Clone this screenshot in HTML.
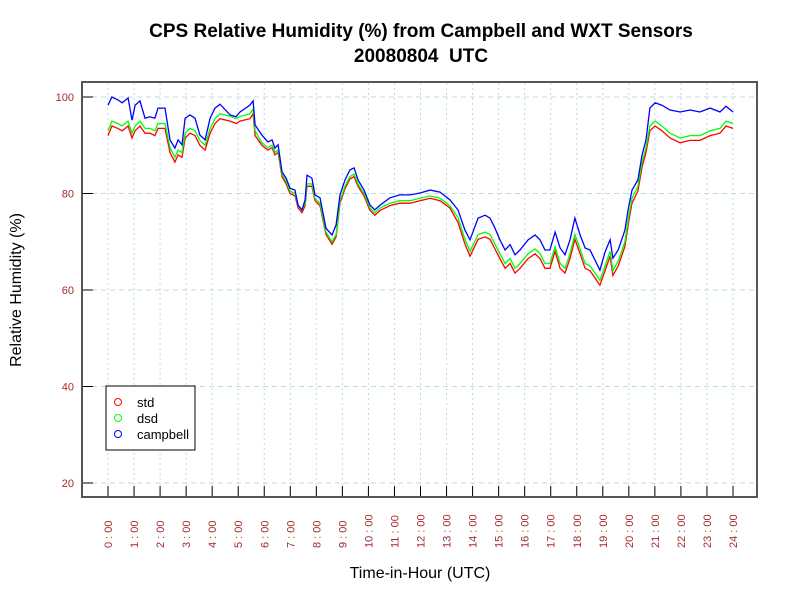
<!DOCTYPE html>
<html><head><meta charset="utf-8"><style>
body{margin:0;background:#fff;}
svg{display:block;font-family:"Liberation Sans",sans-serif;}
</style></head><body>
<svg id="chart" width="800" height="600">
<text x="421" y="37" text-anchor="middle" font-size="19" font-weight="bold">CPS Relative Humidity (%) from Campbell and WXT Sensors</text>
<text x="421" y="62" text-anchor="middle" font-size="19" font-weight="bold">20080804&#160; UTC</text>
<text transform="translate(21,290) rotate(-90)" text-anchor="middle" font-size="16">Relative Humidity (%)</text>
<text x="420" y="578" text-anchor="middle" font-size="16">Time-in-Hour (UTC)</text>
<g id="grid"></g><g id="series"></g><g id="axes"></g>
<rect x="82" y="82" width="675" height="415" fill="none" stroke="#555" stroke-width="2"/>
<g>
<rect x="106" y="386" width="89" height="64" fill="#fff" stroke="#000" stroke-width="1"/>
<g><circle cx="118" cy="402" r="3.5" fill="none" stroke="#f00"/><text x="137" y="407" font-size="13">std</text></g>
<g><circle cx="118" cy="418" r="3.5" fill="none" stroke="#0f0"/><text x="137" y="423" font-size="13">dsd</text></g>
<g><circle cx="118" cy="434" r="3.5" fill="none" stroke="#00f"/><text x="137" y="439" font-size="13">campbell</text></g>
</g>
</svg>
<script>
const hours=[0,.15,.38,.54,.77,.92,1.04,1.23,1.42,1.61,1.8,1.92,2.19,2.38,2.57,2.69,2.84,2.96,3.15,3.34,3.53,3.73,3.92,4.11,4.3,4.69,4.92,5.07,5.45,5.57,5.65,5.91,6.14,6.3,6.41,6.53,6.68,6.84,6.99,7.18,7.3,7.45,7.57,7.64,7.83,7.95,8.14,8.37,8.6,8.76,8.91,9.1,9.29,9.45,9.6,9.83,10.06,10.25,10.45,10.83,11.21,11.6,11.98,12.37,12.75,13.13,13.44,13.71,13.9,14.21,14.48,14.67,14.86,15.05,15.25,15.44,15.63,15.82,16.13,16.4,16.59,16.78,16.97,17.17,17.36,17.55,17.74,17.93,18.13,18.32,18.51,18.7,18.89,19.09,19.28,19.39,19.59,19.85,19.97,20.12,20.35,20.51,20.66,20.81,21.01,21.27,21.58,21.97,22.35,22.73,23.12,23.5,23.73,24];
const campbell=[98.3,100,99.4,98.8,99.8,95.2,98.3,99.2,95.6,95.9,95.6,97.7,97.7,91.1,89.4,91.1,90.1,95.6,96.3,95.6,92.1,91.1,95.6,97.7,98.5,96.3,95.9,96.9,98.3,99.2,94.2,92.1,90.7,91.1,89.4,90.1,84.5,83.2,81.1,80.7,77.6,76.6,78.7,83.8,83.2,79.7,79.1,72.8,71.4,73.5,79.7,82.8,84.9,85.3,82.8,80.7,77.6,76.6,77.6,79.1,79.7,79.7,80.1,80.7,80.3,78.7,76.6,72.4,70.4,74.9,75.5,74.9,72.8,70.4,68.3,69.4,67.3,68.3,70.4,71.4,70.4,68.3,68.3,72.0,68.7,67.3,70.4,74.9,71.4,68.7,68.3,66.2,64.1,67.9,70.4,66.6,68.3,72.4,76.6,80.7,82.8,88.0,91.1,97.7,98.8,98.3,97.3,96.9,97.3,96.9,97.7,96.9,98.1,96.9];
const std=[92.0,94.0,93.5,93.0,94.0,91.5,93.0,94.0,92.5,92.5,92.0,93.5,93.5,88.5,86.5,88.0,87.5,91.5,92.5,92.0,90.0,89.0,92.5,94.5,95.5,95.0,94.5,95.0,95.5,96.5,92.0,90.0,89.0,89.5,88.0,88.5,83.5,82.0,80.0,79.5,77.0,76.0,77.5,81.5,81.5,78.5,77.5,71.5,69.5,71.0,78.0,81.0,83.0,83.5,81.5,79.5,76.5,75.5,76.5,77.5,78.0,78.0,78.5,79.0,78.5,77.0,74.0,69.5,67.0,70.5,71.0,70.5,68.5,66.5,64.5,65.5,63.5,64.5,66.5,67.5,66.5,64.5,64.5,68.0,64.5,63.5,66.5,70.5,67.5,64.5,64.0,62.5,61.0,64.0,67.0,63.0,65.0,69.0,73.5,78.0,80.5,85.5,88.5,93.0,94.0,93.0,91.5,90.5,91.0,91.0,92.0,92.5,94.0,93.5];
const dsd=[93.0,95.0,94.5,94.0,95.0,92.5,94.0,95.0,93.5,93.5,93.0,94.5,94.5,89.5,87.5,89.0,88.5,92.5,93.5,93.0,91.0,90.0,93.5,95.5,96.5,96.0,95.5,96.0,96.5,97.5,93.0,90.5,89.5,90.0,88.5,89.0,84.0,82.5,80.5,80.0,77.5,76.5,78.0,82.0,82.0,79.0,78.0,72.0,70.0,71.5,78.5,81.5,83.5,84.0,82.0,80.0,77.0,76.0,77.0,78.0,78.5,78.5,79.0,79.5,79.0,77.5,75.0,70.5,68.0,71.5,72.0,71.5,69.5,67.5,65.5,66.5,64.5,65.5,67.5,68.5,67.5,65.5,65.5,69.0,65.5,64.5,67.5,71.5,68.5,65.5,65.0,63.5,62.0,65.0,68.0,64.0,66.0,70.0,74.5,79.0,81.5,86.5,89.5,94.0,95.0,94.0,92.5,91.5,92.0,92.0,93.0,93.5,95.0,94.5];
const yTicks=[20,40,60,80,100];
const xTickLabels=["0:00","1:00","2:00","3:00","4:00","5:00","6:00","7:00","8:00","9:00","10:00","11:00","12:00","13:00","14:00","15:00","16:00","17:00","18:00","19:00","20:00","21:00","22:00","23:00","24:00"];

const NS="http://www.w3.org/2000/svg";
const xs=h=>108+h*(625/24);
const ys=v=>97+(100-v)*(386/80);
function mk(tag,attrs,parent){const e=document.createElementNS(NS,tag);for(const k in attrs)e.setAttribute(k,attrs[k]);parent.appendChild(e);return e;}
const grid=document.getElementById('grid'),axes=document.getElementById('axes'),series=document.getElementById('series');
yTicks.forEach(v=>{
  const g=mk('line',{x1:83,x2:756,y1:ys(v),y2:ys(v),stroke:'#b9dbe8','stroke-dasharray':'5,4'},grid);
  
  
  const t=mk('line',{x1:83,x2:93,y1:ys(v),y2:ys(v),stroke:'#000'},axes);
  
  
  const l=mk('text',{x:74,y:ys(v)+4,'text-anchor':'end','font-size':11,fill:'#a52a2a'},axes);
  l.textContent=v;
  
  
});
xTickLabels.forEach((s,i)=>{
  const x=xs(i);
  const g=mk('line',{x1:x,x2:x,y1:83,y2:496,stroke:'#b9dbe8','stroke-dasharray':'2,3'},grid);
  
  
  const t=mk('line',{x1:x,x2:x,y1:486,y2:496,stroke:'#000'},axes);
  
  
  const l=mk('text',{transform:`translate(${x+4},548) rotate(-90)`,'font-size':11,fill:'#a52a2a'},axes);
  l.textContent=s.replace(':',' : ');
  
  
});
[[std,'#f00','series-std'],[dsd,'#0f0','series-dsd'],[campbell,'#00f','series-campbell']].forEach(([arr,c,n])=>{
  const d=arr.map((v,i)=>(i?'L':'M')+xs(hours[i]).toFixed(1)+','+ys(v).toFixed(1)).join('');
  const p=mk('path',{d:d,fill:'none',stroke:c,'stroke-width':1.3},series);
  
  
});
</script>
</body></html>
